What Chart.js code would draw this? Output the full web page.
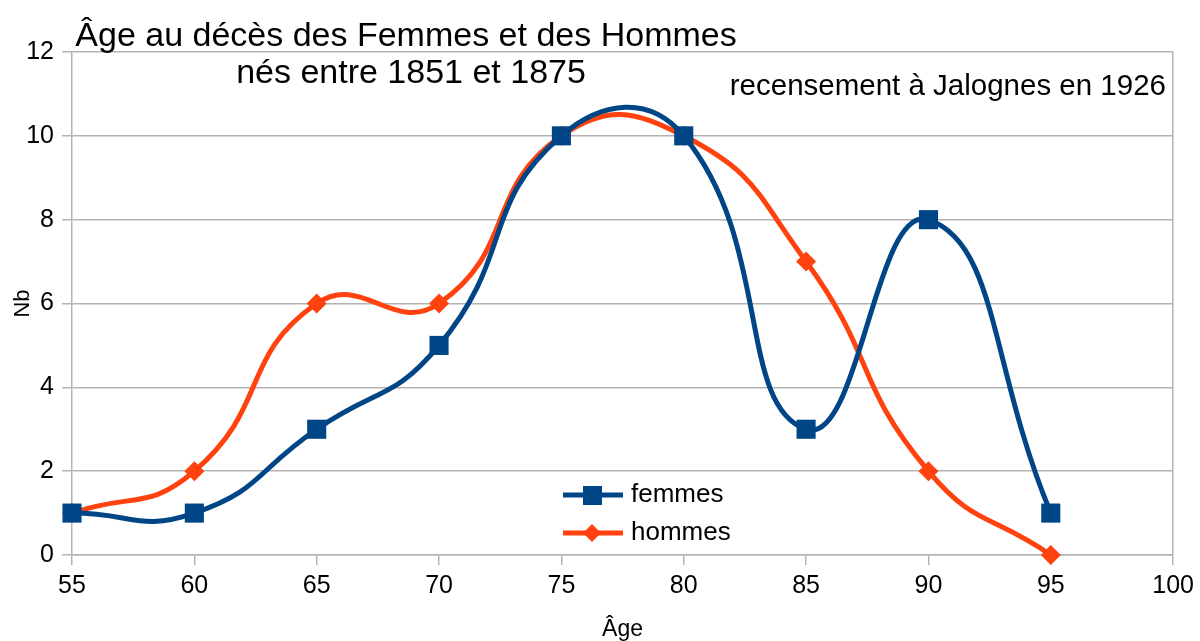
<!DOCTYPE html>
<html>
<head>
<meta charset="utf-8">
<script src="https://cdn.jsdelivr.net/npm/chart.js@4/dist/chart.umd.min.js"></script>
<style>
  html, body { margin: 0; padding: 0; background: #fff; }
  #wrap { width: 1200px; height: 641px; }
</style>
</head>
<body>
<div id="wrap"><canvas id="ageChart"></canvas></div>
<script>
// données
const ages = [55, 60, 65, 70, 75, 80, 85, 90, 95];
const femmes = [1, 1, 3, 5, 10, 10, 3, 8, 1];
const hommes = [1, 2, 6, 6, 10, 10, 7, 2, 0];

const titleLines = ["Âge au décès des Femmes et des Hommes", "nés entre 1851 et 1875"];
const subTitle = "recensement à Jalognes en 1926";

const BLUE = "#004586";
const ORANGE = "#ff420e";
const GRID = "#b3b3b3";
const FONT = "'Liberation Sans', Arial, sans-serif";

// titre + légende dessinés à la main (positions de LibreOffice)
const decorPlugin = {
    id: "decor",
    afterDraw(chart) {
        const ctx = chart.ctx;
        ctx.save();
        ctx.fillStyle = "#000";
        ctx.textAlign = "center";
        ctx.textBaseline = "alphabetic";
        ctx.font = "34px " + FONT;
        ctx.fillText(titleLines[0], 406, 46);
        ctx.fillText(titleLines[1], 411, 83);

        ctx.textAlign = "right";
        ctx.font = "29.5px " + FONT;
        ctx.fillText(subTitle, 1166, 95);

        // légende
        const items = [
            { label: "femmes", color: BLUE, y: 495, shape: "square" },
            { label: "hommes", color: ORANGE, y: 533, shape: "diamond" }
        ];
        ctx.textBaseline = "middle";
        items.forEach(it => {
            ctx.strokeStyle = it.color;
            ctx.fillStyle = it.color;
            ctx.lineWidth = 5;
            ctx.beginPath();
            ctx.moveTo(563, it.y);
            ctx.lineTo(623, it.y);
            ctx.stroke();
            if (it.shape === "square") {
                ctx.fillRect(583, it.y - 9, 19, 19);
            } else {
                ctx.beginPath();
                ctx.moveTo(592, it.y - 9);
                ctx.lineTo(601, it.y);
                ctx.lineTo(592, it.y + 9);
                ctx.lineTo(583, it.y);
                ctx.closePath();
                ctx.fill();
            }
            ctx.fillStyle = "#000";
            ctx.textAlign = "left";
            ctx.font = "26px " + FONT;
            ctx.fillText(it.label, 631, it.y);
        });
        ctx.restore();
    }
};

const toPoints = vals => ages.map((a, i) => ({ x: a, y: vals[i] }));

new Chart(document.getElementById("ageChart"), {
    type: "line",
    data: {
        datasets: [
            {
                label: "femmes",
                data: toPoints(femmes),
                borderColor: BLUE,
                backgroundColor: BLUE,
                borderWidth: 5,
                tension: 0.5,
                pointStyle: "rect",
                pointRadius: 13.5,
                pointBorderWidth: 0,
                clip: false
            },
            {
                label: "hommes",
                data: toPoints(hommes),
                borderColor: ORANGE,
                backgroundColor: ORANGE,
                borderWidth: 5,
                tension: 0.5,
                pointStyle: "rectRot",
                pointRadius: 10,
                pointBorderWidth: 0,
                clip: false
            }
        ]
    },
    options: {
        responsive: true,
        maintainAspectRatio: false,
        animation: false,
        layout: { padding: { top: 52, right: 26, left: 0, bottom: 0 } },
        plugins: { legend: { display: false }, tooltip: { enabled: false } },
        scales: {
            x: {
                type: "linear",
                min: 55, max: 100,
                ticks: { stepSize: 5, color: "#000", font: { size: 25, family: FONT }, padding: 6 },
                grid: {
                    color: c => c.tick && c.tick.value === 100 ? GRID : "transparent",
                    tickColor: GRID, tickLength: 10, lineWidth: 1.5
                },
                border: { color: GRID, width: 1.5 },
                title: { display: true, text: "Âge", color: "#000", font: { size: 23, family: FONT, lineHeight: 1 }, padding: 0 },
                afterFit: s => { s.height = 86; }
            },
            y: {
                min: 0, max: 12,
                ticks: { stepSize: 2, color: "#000", font: { size: 25, family: FONT }, padding: 8 },
                grid: { color: GRID, tickColor: GRID, tickLength: 10, lineWidth: 1.5 },
                border: { color: GRID, width: 1.5 },
                title: { display: true, text: "Nb", color: "#000", font: { size: 22, family: FONT, lineHeight: 1 }, padding: { top: 12, bottom: 0 } },
                afterFit: s => { s.width = 72; }
            }
        }
    },
    plugins: [decorPlugin]
});
</script>
</body>
</html>
